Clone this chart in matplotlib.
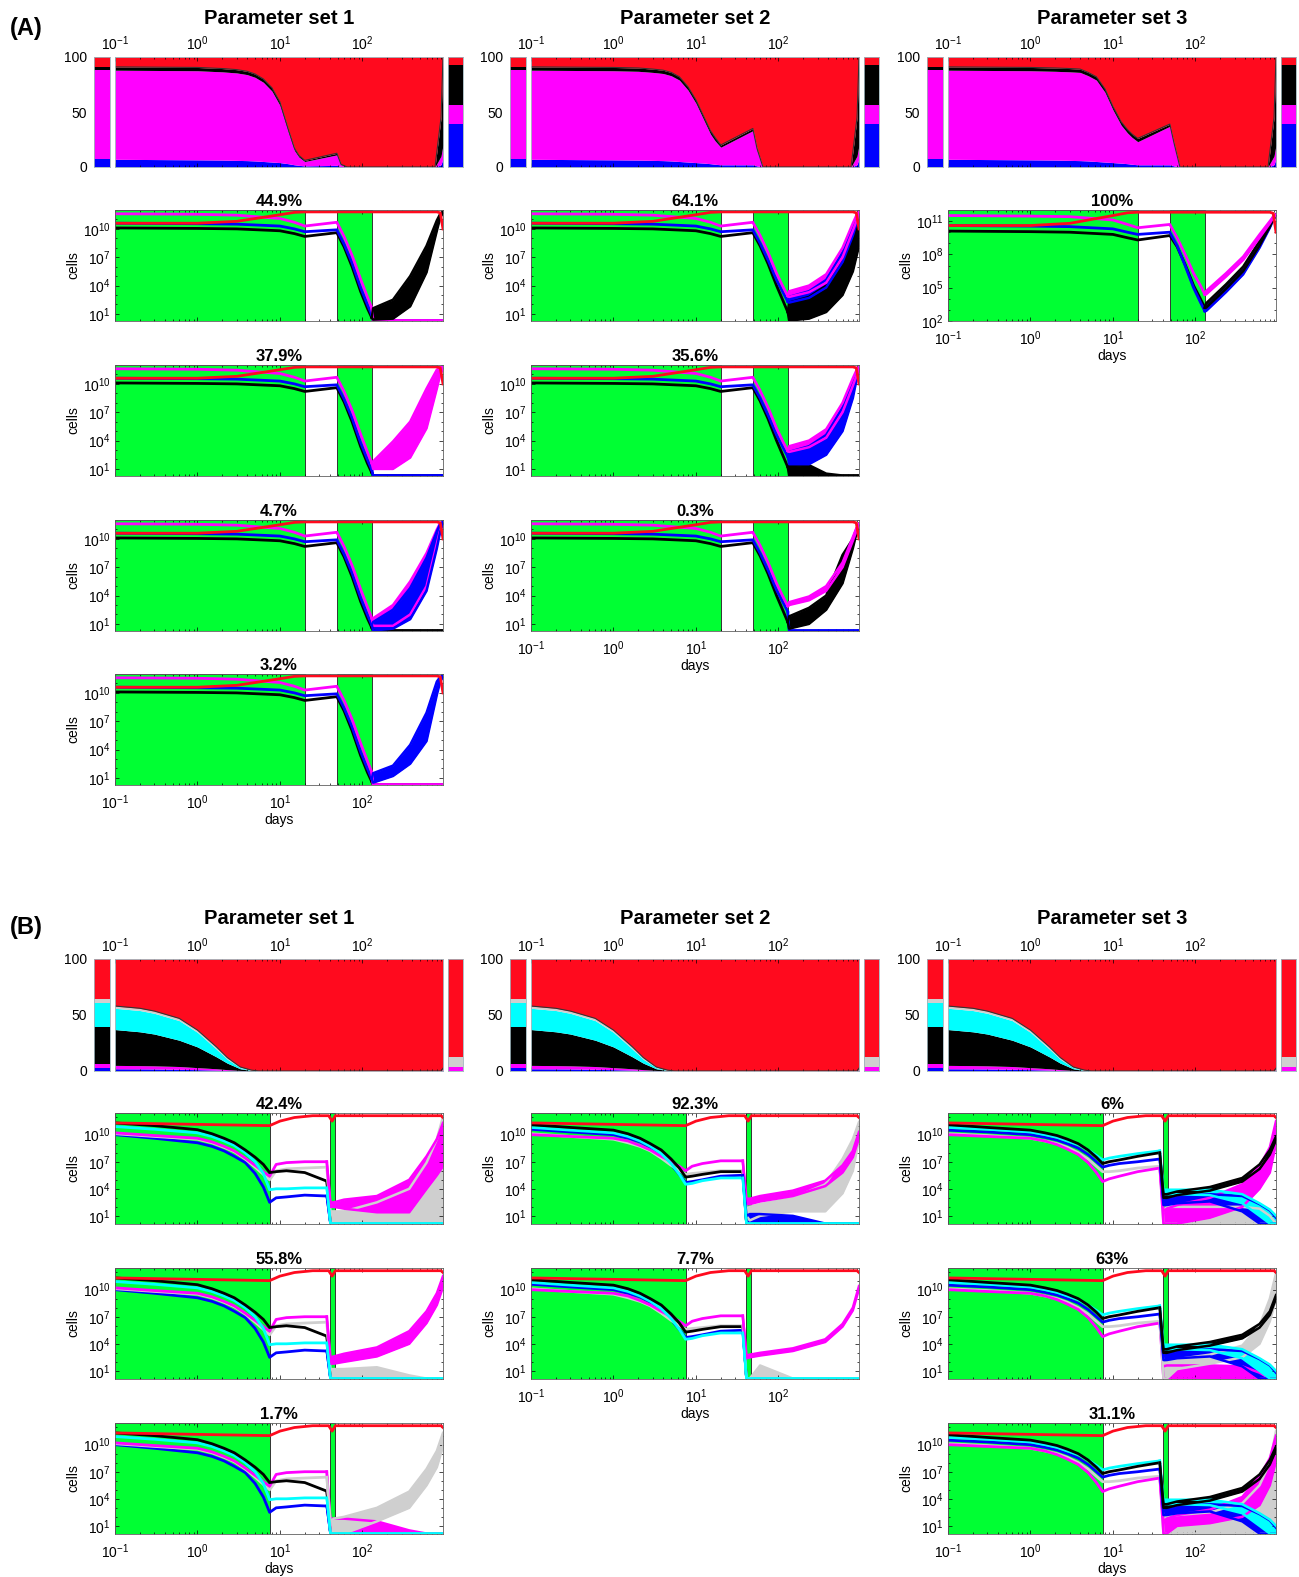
import matplotlib.pyplot as plt
import numpy as np
from matplotlib.ticker import NullFormatter

plt.rcParams['font.family'] = ['Liberation Sans', 'DejaVu Sans']
plt.rcParams['mathtext.fontset'] = 'custom'
plt.rcParams['mathtext.rm'] = 'Liberation Sans'
plt.rcParams['mathtext.it'] = 'Liberation Sans:italic'
plt.rcParams['mathtext.bf'] = 'Liberation Sans:bold'

RED = '#ff0a1e'
MAG = '#ff00ff'
BLUE = '#0000ff'
BLK = '#000000'
CYAN = '#00ffff'
GRAY = '#cfcfcf'
GREEN = '#00ff33'

# ---------------------------------------------------------------- data
# cell counts are given as log10 values, percentages as cumulative layer tops

# panel A, stacked percentages
tA_area = [0.1, 1, 2, 3, 4, 5, 6.3, 8, 10, 12.6, 15, 17, 20, 49, 55, 65, 760, 900, 950]
A1_blue_pct = [7, 6.5, 6.3, 6, 5.8, 5.5, 5, 4.5, 4, 3, 2, 1.5, 1, 1.5, 0.5, 0, 0, 2, 8]
A1_mag_pct = [88, 87.5, 86.5, 85.5, 84, 81.5, 77, 69, 56, 32, 15, 9, 5, 11, 2, 0, 0, 10, 20]
A1_blk_pct = [91, 90.5, 89.5, 88.5, 87, 84.5, 80, 72, 59, 34.5, 17, 10.5, 6, 12.5, 2.5, 0, 0, 45, 100]
A2_blue_pct = [7, 6.5, 6.3, 6, 5.8, 5.5, 5, 4.5, 4, 3.5, 3, 2.5, 2, 2, 1, 0, 0, 2, 8]
A2_mag_pct = [88, 87.5, 87, 86, 85, 83, 79, 70, 58, 42, 30, 24, 18, 33, 15, 0, 0, 10, 20]
A2_blk_pct = [91, 90.5, 90, 89, 88, 86, 82, 73, 61, 45, 33, 27, 20, 35, 17, 0, 0, 45, 100]
A3_blue_pct = [7, 6.5, 6.3, 6, 5.8, 5.5, 5, 4.5, 4, 3.5, 3, 2.5, 2, 2, 1, 0, 0, 2, 8]
A3_mag_pct = [88, 87.5, 87, 86.5, 86, 83, 79, 68, 52, 38, 31, 27, 23, 37, 20, 0, 0, 10, 20]
A3_blk_pct = [91, 90.5, 90, 89.5, 89, 86, 82, 71, 55, 41, 34, 30, 26, 39, 22, 0, 0, 45, 100]
A_bar_left = [7, 81, 3, 9]        # blue, magenta, black, red
A_bar_right = [39, 17, 36.5, 7.5]

# panel B, stacked percentages
tB_area = [0.1, 0.2, 0.3, 0.6, 1, 1.7, 2.3, 3.3, 4.5, 5.5, 900, 950]
B_blue_pct = [2, 1.9, 1.8, 1.5, 1.2, 0.8, 0.5, 0.2, 0, 0, 0, 0.5]
B_mag_pct = [5, 4.8, 4.6, 4, 3, 2, 1.2, 0.5, 0.1, 0, 0, 1.5]
B_blk_pct = [37, 35, 33, 27.5, 21.5, 12.6, 7, 2, 0.4, 0, 0, 2]
B_cyan_pct = [56, 54, 51.5, 45, 34.5, 19.5, 10.5, 3, 0.6, 0, 0, 2]
B_gray_pct = [58, 56, 53.5, 47, 36.5, 21.5, 12, 3.6, 0.8, 0, 0, 2.5]
B_bar_left = [3, 3, 33, 22, 3, 36]   # blue, magenta, black, cyan, gray, red
B_bar_right = [0, 4, 0, 0, 8.6, 87.4]

# panel A, cells: common part up to the end of the second treatment
tA_pre = [0.1, 1, 3, 10, 15, 20, 49, 60, 75, 95, 115, 130]
A_red_t = [0.1, 1, 3, 10, 15, 20, 800, 880, 950]
A_red = [10.6, 10.6, 10.8, 11.5, 11.75, 11.8, 11.8, 11.7, 10.0]
A1_mag_pre = [11.6, 11.55, 11.45, 11.1, 10.7, 10.3, 10.7, 9.2, 7.2, 4.7, 2.8, 1.6]
A1_blue_pre = [10.6, 10.55, 10.5, 10.3, 10.0, 9.7, 9.9, 8.4, 6.4, 3.8, 2.0, 0.9]
A1_blk_pre = [10.1, 10.05, 10.0, 9.8, 9.5, 9.2, 9.6, 8.1, 6.0, 3.4, 1.6, 0.6]
A2_mag_pre = [11.6, 11.55, 11.45, 11.1, 10.7, 10.3, 10.7, 9.3, 7.5, 5.3, 3.8, 2.9]
A2_blue_pre = [10.6, 10.55, 10.5, 10.3, 10.0, 9.7, 9.9, 8.5, 6.7, 4.6, 3.2, 2.3]
A2_blk_pre = [10.1, 10.05, 10.0, 9.8, 9.5, 9.2, 9.6, 8.2, 6.3, 4.0, 2.3, 1.2]
A3_mag_pre = [11.5, 11.45, 11.4, 11.1, 10.7, 10.4, 10.7, 9.5, 8.0, 6.3, 5.2, 4.4]
A3_blue_pre = [10.6, 10.55, 10.5, 10.3, 10.0, 9.8, 10.0, 8.8, 7.0, 5.0, 3.7, 2.9]
A3_blk_pre = [10.1, 10.05, 10.0, 9.8, 9.5, 9.3, 9.7, 8.7, 7.1, 5.2, 4.0, 3.2]

# panel A, cells after treatment (low / high edge of each bundle)
tA_post = [135, 235, 380, 600, 800, 880, 950]
A_floor = [0.3, 0.3, 0.3, 0.3, 0.3, 0.3, 0.3]
A11_blk_lo = [0.4, 0.5, 1.8, 5.4, 9.8, 11.2, 11.7]
A11_blk_hi = [1.6, 2.5, 5.0, 8.2, 10.9, 11.6, 11.8]
A21_mag_lo = [1.0, 1.0, 2.2, 5.3, 9.5, 11.0, 11.6]
A21_mag_hi = [1.8, 3.9, 6.0, 9.5, 11.5, 11.8, 11.8]
A31_mag_lo = [0.8, 0.8, 2.0, 5.0, 9.5, 11.0, 11.6]
A31_mag_hi = [1.6, 3.0, 5.5, 8.5, 11.0, 11.7, 11.8]
A31_blue_lo = [0.3, 0.5, 1.5, 4.5, 9.0, 10.8, 11.6]
A31_blue_hi = [1.2, 2.5, 4.8, 8.0, 10.8, 11.6, 11.8]
A41_blue_lo = [0.5, 1.2, 2.5, 4.9, 9.8, 11.2, 11.7]
A41_blue_hi = [1.5, 2.3, 4.5, 7.9, 11.2, 11.7, 11.8]
A12_mag_lo = [2.8, 3.3, 4.3, 7.0, 9.8, 10.8, 11.5]
A12_mag_hi = [3.4, 4.0, 5.2, 8.0, 10.6, 11.4, 11.8]
A12_blue_lo = [2.2, 2.7, 3.8, 6.5, 9.3, 10.5, 11.3]
A12_blue_hi = [2.8, 3.4, 4.6, 7.5, 10.2, 11.1, 11.7]
A12_blk_lo = [0.3, 0.5, 1.2, 3.0, 5.5, 7.0, 8.2]
A12_blk_hi = [2.2, 2.8, 4.0, 6.8, 9.8, 11.0, 11.8]
A22_blue_lo = [1.5, 1.5, 2.5, 5.0, 8.5, 10.3, 11.3]
A22_blue_hi = [2.8, 3.4, 4.6, 7.5, 10.2, 11.2, 11.8]
A22_blk_hi = [1.3, 1.4, 0.5, 0.3, 0.3, 0.3, 0.3]
A32_mag_lo = [3.0, 3.5, 4.5, 7.0, 9.8, 10.8, 11.5]
A32_mag_hi = [3.3, 3.9, 5.0, 7.5, 10.2, 11.1, 11.6]
A32_blk_lo = [0.5, 1.0, 2.5, 5.3, 9.0, 10.5, 11.5]
A32_blk_hi = [1.8, 2.7, 4.0, 8.3, 10.0, 11.0, 11.6]
A13_mag_lo = [4.4, 6.0, 7.5, 9.5, 10.8, 11.3, 11.5]
A13_mag_hi = [4.7, 6.3, 7.8, 9.8, 11.0, 11.4, 11.6]
A13_blk_lo = [3.2, 4.9, 6.5, 8.8, 10.5, 11.2, 11.5]
A13_blk_hi = [3.6, 5.3, 6.9, 9.2, 10.8, 11.4, 11.6]
A13_blue_lo = [2.9, 4.6, 6.2, 8.6, 10.4, 11.1, 11.5]
A13_blue_hi = [3.2, 4.9, 6.5, 8.9, 10.6, 11.3, 11.6]

# panel B, cells: common part up to the second treatment
tB_pre = [0.1, 0.3, 1, 1.5, 2.1, 2.8, 3.8, 5, 6.3, 7.5, 9, 12, 20, 37]
B_red_t = [0.1, 7.5, 10, 15, 25, 39, 43, 47, 900, 950]
B_red = [11.3, 11.0, 11.5, 11.9, 12.1, 12.1, 11.5, 12.1, 12.1, 11.9]
B1_blk_pre = [11.3, 11.0, 10.55, 10.1, 9.6, 9.1, 8.3, 7.5, 6.7, 5.8, 5.9, 6.0, 5.8, 4.85]
B1_cyan_pre = [10.9, 10.6, 10.2, 9.8, 9.3, 8.8, 8.0, 7.0, 5.7, 3.9, 4.0, 4.0, 4.1, 4.1]
B1_mag_pre = [10.2, 9.9, 9.6, 9.2, 8.7, 8.2, 7.4, 6.6, 5.9, 5.4, 6.7, 6.9, 7.0, 7.0]
B1_gray_pre = [10.1, 9.8, 9.5, 9.1, 8.6, 8.1, 7.3, 6.4, 5.6, 5.0, 6.0, 6.2, 6.3, 6.4]
B1_blue_pre = [10.0, 9.6, 9.1, 8.7, 8.2, 7.6, 6.9, 5.7, 4.2, 2.5, 3.0, 3.1, 3.3, 3.2]
B2_blk_pre = [11.1, 10.8, 10.5, 10.1, 9.6, 9.0, 8.3, 7.3, 6.3, 5.3, 5.4, 5.6, 5.9, 5.9]
B2_cyan_pre = [10.8, 10.5, 10.2, 9.8, 9.3, 8.7, 7.9, 6.8, 5.6, 4.5, 4.6, 4.9, 5.2, 5.2]
B2_mag_pre = [10.0, 9.8, 9.6, 9.3, 8.8, 8.3, 7.6, 7.0, 6.5, 6.0, 6.5, 6.8, 7.1, 7.1]
B2_gray_pre = [10.1, 9.8, 9.5, 9.1, 8.7, 8.2, 7.4, 6.6, 6.0, 5.6, 5.7, 5.8, 6.0, 6.0]
B2_blue_pre = [10.6, 10.3, 10.0, 9.6, 9.2, 8.6, 7.8, 6.7, 5.6, 4.7, 4.8, 5.0, 5.4, 5.5]
B3_blk_pre = [11.1, 10.8, 10.5, 10.2, 9.9, 9.5, 9.0, 8.3, 7.5, 6.8, 7.0, 7.2, 7.6, 8.0]
B3_cyan_pre = [10.8, 10.6, 10.3, 10.0, 9.7, 9.3, 8.9, 8.3, 7.7, 7.2, 7.4, 7.6, 7.9, 8.2]
B3_mag_pre = [10.0, 9.8, 9.6, 9.3, 8.9, 8.4, 7.8, 6.9, 5.8, 4.8, 5.1, 5.4, 5.9, 6.3]
B3_gray_pre = [10.1, 9.9, 9.6, 9.3, 9.0, 8.6, 8.0, 7.3, 6.5, 5.9, 5.9, 6.0, 6.3, 6.5]
B3_blue_pre = [10.5, 10.3, 10.0, 9.7, 9.4, 9.0, 8.5, 7.8, 7.0, 6.4, 6.6, 6.8, 7.0, 7.3]

# panel B, cells after treatment
tB_post = [41, 45, 60, 150, 370, 600, 800, 950]
B_floor = [0.15, 0.15, 0.15, 0.15, 0.15, 0.15, 0.15, 0.15]
B11_mag_lo = [2.0, 2.0, 1.8, 1.4, 1.4, 4.0, 5.5, 6.5]
B11_mag_hi = [2.5, 2.5, 2.8, 3.2, 5.0, 7.6, 9.5, 11.3]
B11_gray_hi = [1.5, 1.5, 1.5, 2.5, 4.0, 6.9, 9.5, 12.0]
B21_mag_lo = [1.8, 1.8, 2.0, 2.6, 4.0, 6.3, 8.3, 10.3]
B21_mag_hi = [2.5, 2.6, 2.9, 3.6, 5.4, 7.6, 9.6, 11.5]
B21_gray_hi = [1.2, 1.2, 1.2, 1.4, 0.5, 0.15, 0.15, 0.15]
B31_gray_lo = [0.15, 0.15, 0.15, 1.5, 3.0, 5.5, 7.5, 9.8]
B31_gray_hi = [1.5, 1.8, 2.0, 3.0, 4.8, 7.3, 9.3, 11.3]
B31_mag_hi = [1.8, 1.8, 1.8, 1.5, 0.5, 0.15, 0.15, 0.15]
B12_gray_lo = [1.0, 0.5, 1.0, 1.5, 1.5, 3.5, 6.0, 9.5]
B12_gray_hi = [1.8, 2.0, 2.3, 3.0, 4.5, 7.3, 9.5, 11.4]
B12_mag_lo = [2.3, 2.3, 2.6, 3.2, 4.3, 5.8, 7.5, 9.6]
B12_mag_hi = [2.9, 2.9, 3.2, 3.8, 4.9, 6.6, 8.2, 10.3]
B12_blue_hi = [1.0, 1.2, 1.2, 1.0, 0.15, 0.15, 0.15, 0.15]
B22_mag_lo = [2.4, 2.5, 2.7, 3.2, 4.2, 5.9, 7.7, 10.1]
B22_mag_hi = [2.7, 2.8, 3.0, 3.5, 4.5, 6.2, 8.0, 10.4]
B22_gray_hi = [0.15, 0.15, 1.6, 0.15, 0.15, 0.15, 0.15, 0.15]
B13_gray_hi = [1.5, 2.0, 2.0, 2.0, 2.0, 1.8, 1.0, 0.15]
B13_mag_lo = [0.15, 0.15, 0.15, 0.8, 2.0, 4.0, 5.8, 9.0]
B13_mag_hi = [1.5, 1.8, 2.2, 3.0, 4.5, 6.5, 8.6, 11.5]
B3_blue_lo = [2.2, 2.2, 2.4, 2.6, 1.5, 0.15, 0.15, 0.15]
B3_blue_hi = [2.6, 2.8, 3.2, 3.4, 3.2, 2.3, 1.6, 0.8]
B3_cyan_lo = [3.4, 3.4, 3.4, 3.3, 2.4, 1.0, 0.15, 0.15]
B3_cyan_hi = [3.9, 3.9, 3.9, 3.9, 3.4, 2.4, 1.7, 1.0]
B13_blk_lo = [3.0, 3.0, 3.3, 3.8, 4.8, 6.2, 7.8, 9.4]
B13_blk_hi = [3.4, 3.4, 3.7, 4.2, 5.2, 6.7, 8.3, 9.8]
B23_mag_hi = [1.5, 1.6, 1.6, 1.6, 1.5, 0.8, 0.15, 0.15]
B23_gray_lo = [0.15, 0.15, 1.2, 1.8, 2.5, 4.0, 6.5, 9.0]
B23_gray_hi = [1.8, 2.0, 2.3, 2.8, 3.8, 6.0, 9.0, 11.8]
B23_blk_lo = [3.0, 3.0, 3.3, 3.8, 4.6, 5.8, 7.2, 9.0]
B23_blk_hi = [3.4, 3.4, 3.7, 4.2, 5.0, 6.2, 7.6, 9.4]
B33_gray_hi = [1.8, 2.0, 2.2, 2.5, 3.5, 5.5, 8.0, 11.5]
B33_mag_lo = [0.15, 0.15, 1.0, 1.3, 2.0, 3.3, 5.5, 8.2]
B33_mag_hi = [1.5, 1.8, 2.2, 2.8, 4.2, 6.5, 8.5, 11.0]

# ---------------------------------------------------------------- layout
W, H = 1299, 1577
fig = plt.figure(figsize=(W / 100, H / 100), dpi=100)

COL_X = [115, 531, 948]
AX_W = 328
XT = [0.1, 1, 10, 100]
XT_LAB = ['$10^{-1}$', '$10^{0}$', '$10^{1}$', '$10^{2}$']


def box(x, y, w, h):
    return [x / W, 1 - (y + h) / H, w / W, h / H]


def style(ax, frame='#606060'):
    for s in ax.spines.values():
        s.set_color(frame)
        s.set_linewidth(0.6)
    ax.tick_params(which='both', direction='in', top=True, right=True,
                   width=0.5, labelsize=10, pad=3)
    ax.tick_params(which='major', length=3)
    ax.tick_params(which='minor', length=1.5)


def stack_bar(x, y0, w, h, segs, cols, labels):
    ax = fig.add_axes(box(x, y0, w, h))
    bottoms = np.cumsum([0] + list(segs[:-1]))
    ax.bar(np.zeros(len(segs)), segs, bottom=bottoms, color=cols, width=1.0, lw=0)
    ax.set_xlim(-0.5, 0.5)
    ax.set_ylim(0, 100)
    ax.set_xticks([])
    style(ax, '#9fb4bb')
    ax.tick_params(right=False, top=False, length=0)
    if labels:
        ax.set_yticks([0, 50, 100])
        ax.tick_params(axis='y', pad=5)
    else:
        ax.set_yticks([])


def area_panel(col, y0, h, t, layers, bar_l, bar_r, bar_cols):
    x0 = COL_X[col]
    ax = fig.add_axes(box(x0, y0, AX_W, h))
    ax.set_xscale('log')
    ax.set_xlim(0.1, 950)
    ax.set_ylim(0, 100)
    prev = np.zeros(len(t))
    for top, c in layers:
        top = np.array(top, float)
        ax.fill_between(t, prev, top, color=c, lw=0)
        prev = top
    ax.fill_between(t, prev, 100, color=RED, lw=0)
    ax.plot(t, prev, color='#333333', lw=0.8)
    style(ax, '#9fb4bb')
    ax.set_xticks(XT)
    ax.set_xticklabels(XT_LAB)
    ax.xaxis.set_minor_formatter(NullFormatter())
    ax.tick_params(labeltop=True, labelbottom=False, left=False, right=False)
    ax.set_yticks([])
    stack_bar(x0 - 21, y0, 16, h, bar_l, bar_cols, True)
    stack_bar(x0 + AX_W + 5, y0, 15, h, bar_r, bar_cols, False)


def cells_panel(col, y0, ylim, ytk, spans, title, bottom,
                pre_t, pre, post_t, post, red_t, red_v):
    ax = fig.add_axes(box(COL_X[col], y0, AX_W, 111))
    ax.set_xscale('log')
    ax.set_yscale('log')
    ax.set_xlim(0.1, 950)
    ax.set_ylim(10 ** ylim[0], 10 ** ylim[1])
    for a, b in spans:
        ax.axvspan(a, b, fc=GREEN, ec='#333333', lw=0.7, zorder=0)
    ends = {}
    for v, c in pre:
        ax.plot(pre_t, 10 ** np.array(v), color=c, lw=2.0)
        ends[c] = v[-1]
    t = np.array([pre_t[-1]] + list(post_t), float)
    for lo, hi, c in post:
        lo = 10 ** np.array([ends[c]] + list(lo))
        hi = 10 ** np.array([ends[c]] + list(hi))
        ax.fill_between(t, lo, hi, color=c, lw=0)
        ax.plot(t, lo, color=c, lw=1.8)
        ax.plot(t, hi, color=c, lw=1.8)
    ax.plot(red_t, 10 ** np.array(red_v), color=RED, lw=2.0)
    style(ax)
    ax.set_yticks([10.0 ** k for k in ytk])
    ax.set_yticklabels(['$10^{%d}$' % k for k in ytk])
    ax.set_yticks([10.0 ** k for k in range(int(np.ceil(ylim[0])), int(ylim[1]) + 1)], minor=True)
    ax.yaxis.set_minor_formatter(NullFormatter())
    ax.xaxis.set_minor_formatter(NullFormatter())
    ax.set_xticks(XT)
    if bottom:
        ax.set_xticklabels(XT_LAB)
        ax.tick_params(axis='x', pad=6)
        ax.set_xlabel('days', fontsize=10, labelpad=1)
    else:
        ax.tick_params(labelbottom=False)
    ax.set_ylabel('cells', fontsize=10, labelpad=2)
    ax.set_title(title, fontsize=12, fontweight='bold', pad=3)


# ---------------------------------------------------------------- panel A
A_spans = [(0.1, 20), (49, 130)]
A_rows = [210, 365, 520, 674]
A_cols4 = [BLUE, MAG, BLK, RED]
A_pct = [(A1_blue_pct, A1_mag_pct, A1_blk_pct),
         (A2_blue_pct, A2_mag_pct, A2_blk_pct),
         (A3_blue_pct, A3_mag_pct, A3_blk_pct)]
A_pre = [(A1_blk_pre, A1_blue_pre, A1_mag_pre),
         (A2_blk_pre, A2_blue_pre, A2_mag_pre),
         (A3_blk_pre, A3_blue_pre, A3_mag_pre)]

for c in range(3):
    b, m, k = A_pct[c]
    area_panel(c, 57, 110, tA_area, [(b, BLUE), (m, MAG), (k, BLK)],
               A_bar_left, A_bar_right, A_cols4)
    fig.text((COL_X[c] + AX_W / 2) / W, 1 - 18 / H, 'Parameter set %d' % (c + 1),
             ha='center', va='center', fontsize=14.5, fontweight='bold')

A_cells = [
    (0, 0, '44.9%', [(A_floor, A_floor, BLUE), (A_floor, A_floor, MAG), (A11_blk_lo, A11_blk_hi, BLK)]),
    (0, 1, '37.9%', [(A_floor, A_floor, BLK), (A_floor, A_floor, BLUE), (A21_mag_lo, A21_mag_hi, MAG)]),
    (0, 2, '4.7%', [(A_floor, A_floor, BLK), (A31_mag_lo, A31_mag_hi, MAG), (A31_blue_lo, A31_blue_hi, BLUE)]),
    (0, 3, '3.2%', [(A_floor, A_floor, BLK), (A_floor, A_floor, MAG), (A41_blue_lo, A41_blue_hi, BLUE)]),
    (1, 0, '64.1%', [(A12_blk_lo, A12_blk_hi, BLK), (A12_blue_lo, A12_blue_hi, BLUE), (A12_mag_lo, A12_mag_hi, MAG)]),
    (1, 1, '35.6%', [(A_floor, A22_blk_hi, BLK), (A22_blue_lo, A22_blue_hi, BLUE), (A12_mag_lo, A12_mag_hi, MAG)]),
    (1, 2, '0.3%', [(A_floor, A_floor, BLUE), (A32_blk_lo, A32_blk_hi, BLK), (A32_mag_lo, A32_mag_hi, MAG)]),
    (2, 0, '100%', [(A13_blue_lo, A13_blue_hi, BLUE), (A13_blk_lo, A13_blk_hi, BLK), (A13_mag_lo, A13_mag_hi, MAG)]),
]
A_last = {0: 3, 1: 2, 2: 0}
for c, r, title, post in A_cells:
    k, b, m = A_pre[c]
    if c == 2:
        ylim, ytk = (2, 12), [2, 5, 8, 11]
    else:
        ylim, ytk = (0.25, 12), [1, 4, 7, 10]
    cells_panel(c, A_rows[r], ylim, ytk, A_spans, title, A_last[c] == r,
                tA_pre, [(k, BLK), (b, BLUE), (m, MAG)], tA_post, post, A_red_t, A_red)

# ---------------------------------------------------------------- panel B
B_spans = [(0.1, 7.5), (40, 47)]
B_rows = [1113, 1268, 1423]
B_cols6 = [BLUE, MAG, BLK, CYAN, GRAY, RED]
B_pre = [(B1_blue_pre, B1_gray_pre, B1_mag_pre, B1_cyan_pre, B1_blk_pre),
         (B2_blue_pre, B2_gray_pre, B2_mag_pre, B2_cyan_pre, B2_blk_pre),
         (B3_blue_pre, B3_gray_pre, B3_mag_pre, B3_cyan_pre, B3_blk_pre)]

for c in range(3):
    area_panel(c, 959, 112, tB_area,
               [(B_blue_pct, BLUE), (B_mag_pct, MAG), (B_blk_pct, BLK),
                (B_cyan_pct, CYAN), (B_gray_pct, GRAY)],
               B_bar_left, B_bar_right, B_cols6)
    fig.text((COL_X[c] + AX_W / 2) / W, 1 - 918 / H, 'Parameter set %d' % (c + 1),
             ha='center', va='center', fontsize=14.5, fontweight='bold')

B_cells = [
    (0, 0, '42.4%', [(B_floor, B_floor, BLK), (B_floor, B_floor, BLUE), (B_floor, B11_gray_hi, GRAY),
                     (B11_mag_lo, B11_mag_hi, MAG), (B_floor, B_floor, CYAN)]),
    (0, 1, '55.8%', [(B_floor, B_floor, BLK), (B_floor, B_floor, BLUE), (B_floor, B21_gray_hi, GRAY),
                     (B21_mag_lo, B21_mag_hi, MAG), (B_floor, B_floor, CYAN)]),
    (0, 2, '1.7%', [(B_floor, B_floor, BLK), (B_floor, B_floor, BLUE), (B_floor, B31_mag_hi, MAG),
                    (B31_gray_lo, B31_gray_hi, GRAY), (B_floor, B_floor, CYAN)]),
    (1, 0, '92.3%', [(B_floor, B_floor, BLK), (B12_gray_lo, B12_gray_hi, GRAY), (B12_mag_lo, B12_mag_hi, MAG),
                     (B_floor, B12_blue_hi, BLUE), (B_floor, B_floor, CYAN)]),
    (1, 1, '7.7%', [(B_floor, B_floor, BLK), (B_floor, B_floor, BLUE), (B_floor, B22_gray_hi, GRAY),
                    (B22_mag_lo, B22_mag_hi, MAG), (B_floor, B_floor, CYAN)]),
    (2, 0, '6%', [(B_floor, B13_gray_hi, GRAY), (B13_mag_lo, B13_mag_hi, MAG), (B3_blue_lo, B3_blue_hi, BLUE),
                  (B3_cyan_lo, B3_cyan_hi, CYAN), (B13_blk_lo, B13_blk_hi, BLK)]),
    (2, 1, '63%', [(B_floor, B23_mag_hi, MAG), (B23_gray_lo, B23_gray_hi, GRAY), (B3_blue_lo, B3_blue_hi, BLUE),
                   (B3_cyan_lo, B3_cyan_hi, CYAN), (B23_blk_lo, B23_blk_hi, BLK)]),
    (2, 2, '31.1%', [(B_floor, B33_gray_hi, GRAY), (B33_mag_lo, B33_mag_hi, MAG), (B3_blue_lo, B3_blue_hi, BLUE),
                     (B3_cyan_lo, B3_cyan_hi, CYAN), (B13_blk_lo, B13_blk_hi, BLK)]),
]
B_last = {0: 2, 1: 1, 2: 2}
for c, r, title, post in B_cells:
    bl, gr, mg, cy, bk = B_pre[c]
    cells_panel(c, B_rows[r], (0.1, 12.4), [1, 4, 7, 10], B_spans, title, B_last[c] == r,
                tB_pre, [(bl, BLUE), (gr, GRAY), (mg, MAG), (cy, CYAN), (bk, BLK)],
                tB_post, post, B_red_t, B_red)

fig.text(10 / W, 1 - 28 / H, '(A)', ha='left', va='center', fontsize=17, fontweight='bold')
fig.text(10 / W, 1 - 927 / H, '(B)', ha='left', va='center', fontsize=17, fontweight='bold')

fig.savefig('out.png', dpi=100)
